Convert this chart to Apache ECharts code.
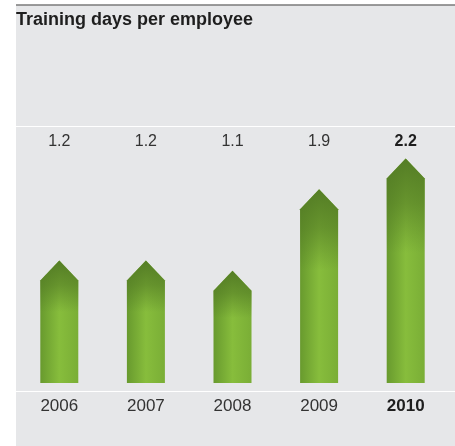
<!DOCTYPE html>
<html>
<head>
<meta charset="utf-8">
<script src="https://cdn.jsdelivr.net/npm/echarts@6/dist/echarts.min.js"></script>
<style>
  html, body { margin: 0; padding: 0; background: #ffffff; }
  #chart { width: 455px; height: 446px; }
</style>
</head>
<body>
<div id="chart"></div>
<script>
// Training days per employee, by year
const years = ['2006', '2007', '2008', '2009', '2010'];
const trainingDays = [1.2, 1.2, 1.1, 1.9, 2.2];
const valueLabels = ['1.2', '1.2', '1.1', '1.9', '2.2'];
const highlightYear = '2010';

const chart = echarts.init(document.getElementById('chart'), null, { renderer: 'canvas' });

const FONT = 'Liberation Sans, Arial, sans-serif';
const BAR_W = 38;
const HEAD_H = 20;
const LABEL_Y = 142;

function renderArrow(params, api) {
  const idx = params.dataIndex;
  const tip = api.coord([api.value(0), api.value(1)]);
  const base = api.coord([api.value(0), 0]);
  const cx = tip[0];
  const half = BAR_W / 2;
  const shoulder = tip[1] + HEAD_H;
  const points = [
    [cx - half, base[1]],
    [cx - half, shoulder],
    [cx, tip[1]],
    [cx + half, shoulder],
    [cx + half, base[1]]
  ];
  const isHi = years[idx] === highlightYear;
  return {
    type: 'group',
    children: [
      {
        type: 'polygon',
        shape: { points: points },
        style: {
          fill: new echarts.graphic.LinearGradient(0, 0, 1, 0, [
            { offset: 0, color: '#689a2e' },
            { offset: 0.5, color: '#87bd3c' },
            { offset: 1, color: '#7aae36' }
          ])
        }
      },
      {
        type: 'polygon',
        shape: { points: points },
        style: {
          fill: new echarts.graphic.LinearGradient(0, 0, 0, 1, [
            { offset: 0, color: 'rgba(82,122,36,0.95)' },
            { offset: 0.2, color: 'rgba(82,122,36,0.6)' },
            { offset: 0.42, color: 'rgba(82,122,36,0)' },
            { offset: 1, color: 'rgba(82,122,36,0)' }
          ])
        }
      },
      {
        type: 'text',
        x: cx,
        y: LABEL_Y,
        style: {
          text: valueLabels[idx],
          fill: isHi ? '#1e1e1e' : '#333333',
          font: (isHi ? 'bold ' : '') + '16px ' + FONT,
          align: 'center',
          verticalAlign: 'middle'
        }
      }
    ]
  };
}

chart.setOption({
  animation: false,
  backgroundColor: '#ffffff',
  graphic: [
    { type: 'rect', shape: { x: 16, y: 5, width: 439, height: 441 }, style: { fill: '#e6e7e9' }, z: -10 },
    { type: 'line', shape: { x1: 16, y1: 5, x2: 455, y2: 5 }, style: { stroke: '#7a7a7a', lineWidth: 1.5 }, z: -5 },
    { type: 'line', shape: { x1: 16, y1: 126.5, x2: 455, y2: 126.5 }, style: { stroke: '#ffffff', lineWidth: 1 }, z: -5 },
    { type: 'line', shape: { x1: 16, y1: 391.5, x2: 455, y2: 391.5 }, style: { stroke: '#ffffff', lineWidth: 1 }, z: -5 },
    {
      type: 'text', left: 16, top: 11,
      style: { text: 'Training days per employee', fill: '#1e1e1e', font: 'bold 18px ' + FONT }
    }
  ],
  grid: { left: 16, right: 6, top: 77, bottom: 63 },
  xAxis: {
    type: 'category',
    data: years,
    axisLine: { show: false },
    axisTick: { show: false },
    axisLabel: {
      margin: 15,
      fontFamily: FONT,
      fontSize: 17,
      color: '#333333',
      formatter: function (v) { return v === highlightYear ? '{b|' + v + '}' : v; },
      rich: { b: { fontWeight: 'bold', fontSize: 17, fontFamily: FONT, color: '#1e1e1e' } }
    }
  },
  yAxis: {
    type: 'value',
    min: 0,
    max: 3,
    show: false,
    splitLine: { show: false }
  },
  series: [{
    type: 'custom',
    renderItem: renderArrow,
    encode: { x: 0, y: 1 },
    data: years.map(function (y, i) { return [i, trainingDays[i]]; })
  }]
});
</script>
</body>
</html>
